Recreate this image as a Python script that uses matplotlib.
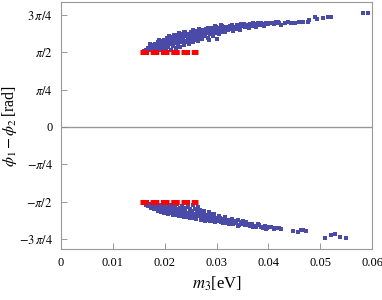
import numpy as np
import matplotlib
matplotlib.use("Agg")
import matplotlib.pyplot as plt

plt.rcParams['font.family'] = ['Liberation Serif', 'DejaVu Serif']
plt.rcParams['mathtext.fontset'] = 'stix'

# upper branch (m3 [eV], phi1 - phi2 [rad])
up_m3 = [0.0160, 0.0163, 0.0166, 0.0168, 0.0170, 0.0172, 0.0174, 0.0176, 0.0178, 0.0179,
         0.0181, 0.0183, 0.0185, 0.0186, 0.0188, 0.0190, 0.0192, 0.0193, 0.0195, 0.0197,
         0.0198, 0.0200, 0.0202, 0.0204, 0.0205, 0.0207, 0.0209, 0.0211, 0.0212, 0.0214,
         0.0216, 0.0218, 0.0219, 0.0221, 0.0223, 0.0225, 0.0226, 0.0228, 0.0230, 0.0232,
         0.0233, 0.0235, 0.0237, 0.0239, 0.0240, 0.0242, 0.0244, 0.0246, 0.0247, 0.0249,
         0.0251, 0.0253, 0.0255, 0.0256, 0.0258, 0.0260, 0.0262, 0.0264, 0.0265, 0.0267,
         0.0269, 0.0271, 0.0273, 0.0275, 0.0277, 0.0279, 0.0281, 0.0283, 0.0285, 0.0287,
         0.0289, 0.0291, 0.0293, 0.0295, 0.0297, 0.0299, 0.0302, 0.0304, 0.0306, 0.0309,
         0.0311, 0.0314, 0.0316, 0.0319, 0.0322, 0.0325, 0.0328, 0.0331, 0.0334, 0.0337,
         0.0340, 0.0343, 0.0346, 0.0349, 0.0352, 0.0355, 0.0358, 0.0362, 0.0365, 0.0368,
         0.0372, 0.0376, 0.0380, 0.0384, 0.0388, 0.0392, 0.0396, 0.0400, 0.0405, 0.0410,
         0.0415, 0.0420, 0.0425, 0.0432, 0.0438, 0.0444, 0.0452, 0.0459, 0.0467, 0.0477,
         0.0479, 0.0489, 0.0494, 0.0505, 0.0515, 0.0520, 0.0583, 0.0593,
         0.0286, 0.0300, 0.0184, 0.0196, 0.0215, 0.0236, 0.0248, 0.0261,
         0.0171, 0.0189, 0.0194, 0.0203, 0.0208, 0.0213, 0.0217, 0.0222, 0.0227, 0.0231,
         0.0234, 0.0238, 0.0243, 0.0245, 0.0250, 0.0254, 0.0257, 0.0259, 0.0263, 0.0266,
         0.0270, 0.0272, 0.0276, 0.0278, 0.0282, 0.0284, 0.0288, 0.0292, 0.0296, 0.0301,
         0.0305, 0.0308, 0.0313, 0.0318, 0.0324, 0.0330, 0.0336, 0.0342, 0.0348, 0.0356,
         0.0363, 0.0370, 0.0378, 0.0386, 0.0394, 0.0402, 0.0412, 0.0418]
up_phi = [1.60, 1.63, 1.61, 1.66, 1.62, 1.69, 1.64, 1.72, 1.60, 1.67,
          1.75, 1.63, 1.70, 1.78, 1.66, 1.73, 1.81, 1.62, 1.69, 1.77,
          1.84, 1.65, 1.72, 1.80, 1.87, 1.68, 1.75, 1.83, 1.63, 1.90,
          1.71, 1.79, 1.86, 1.66, 1.93, 1.74, 1.82, 1.89, 1.69, 1.96,
          1.78, 1.85, 1.72, 1.92, 1.99, 1.81, 1.88, 1.75, 1.95, 1.84,
          2.01, 1.91, 1.78, 1.98, 1.87, 1.94, 2.03, 1.82, 1.90, 1.99,
          2.05, 1.86, 1.95, 2.02, 1.91, 2.07, 1.98, 1.88, 2.04, 1.95,
          2.09, 2.01, 1.92, 2.06, 1.98, 2.10, 2.03, 1.96, 2.08, 2.00,
          2.12, 2.05, 1.99, 2.10, 2.04, 2.13, 2.07, 2.02, 2.11, 2.06,
          2.14, 2.09, 2.05, 2.13, 2.16, 2.10, 2.14, 2.08, 2.17, 2.12,
          2.15, 2.11, 2.18, 2.14, 2.17, 2.13, 2.19, 2.16, 2.20, 2.17,
          2.21, 2.18, 2.15, 2.19, 2.21, 2.19, 2.20, 2.22, 2.21, 2.21,
          2.25, 2.32, 2.28, 2.29, 2.32, 2.31, 2.40, 2.40,
          1.84, 1.86, 1.67, 1.71, 1.77, 1.80, 1.86, 1.90,
          1.74, 1.84, 1.75, 1.64, 1.91, 1.85, 1.93, 1.76, 1.97, 1.83,
          1.91, 2.00, 1.78, 1.93, 1.97, 2.04, 1.83, 2.00, 1.96, 2.06,
          1.92, 2.00, 1.96, 2.04, 2.01, 2.08, 1.97, 2.04, 2.12, 2.07,
          2.02, 2.14, 2.09, 2.04, 2.10, 2.15, 2.09, 2.12, 2.17, 2.12,
          2.15, 2.18, 2.16, 2.19, 2.17, 2.19, 2.20, 2.22]

# lower branch
lo_m3 = [0.0160, 0.0163, 0.0166, 0.0168, 0.0171, 0.0173, 0.0175, 0.0178, 0.0180, 0.0182,
         0.0184, 0.0186, 0.0188, 0.0190, 0.0192, 0.0194, 0.0196, 0.0198, 0.0200, 0.0202,
         0.0204, 0.0206, 0.0208, 0.0210, 0.0212, 0.0214, 0.0216, 0.0218, 0.0220, 0.0222,
         0.0224, 0.0226, 0.0228, 0.0230, 0.0232, 0.0234, 0.0236, 0.0238, 0.0240, 0.0242,
         0.0244, 0.0246, 0.0248, 0.0250, 0.0252, 0.0254, 0.0256, 0.0258, 0.0260, 0.0262,
         0.0264, 0.0266, 0.0268, 0.0270, 0.0272, 0.0274, 0.0276, 0.0278, 0.0280, 0.0282,
         0.0285, 0.0287, 0.0290, 0.0292, 0.0295, 0.0297, 0.0300, 0.0302, 0.0305, 0.0308,
         0.0311, 0.0314, 0.0317, 0.0320, 0.0323, 0.0326, 0.0329, 0.0332, 0.0335, 0.0338,
         0.0341, 0.0344, 0.0347, 0.0350, 0.0354, 0.0357, 0.0361, 0.0365, 0.0369, 0.0373,
         0.0377, 0.0381, 0.0385, 0.0389, 0.0393, 0.0398, 0.0405, 0.0410, 0.0416, 0.0420,
         0.0425, 0.0448, 0.0457, 0.0463, 0.0467, 0.0472, 0.0510, 0.0520, 0.0529, 0.0539,
         0.0550,
         0.0170, 0.0177, 0.0183, 0.0189, 0.0195, 0.0201, 0.0205, 0.0209, 0.0213, 0.0217,
         0.0221, 0.0225, 0.0229, 0.0233, 0.0237, 0.0241, 0.0245, 0.0249, 0.0253, 0.0257,
         0.0261, 0.0265, 0.0269, 0.0273, 0.0277, 0.0281, 0.0284, 0.0288, 0.0291, 0.0294,
         0.0298, 0.0303, 0.0307, 0.0312, 0.0318, 0.0324, 0.0330, 0.0336, 0.0342, 0.0348,
         0.0356, 0.0363, 0.0371, 0.0379, 0.0387, 0.0395, 0.0402, 0.0413]
lo_phi = [-1.61, -1.64, -1.60, -1.67, -1.62, -1.70, -1.65, -1.61, -1.73, -1.67,
          -1.63, -1.76, -1.70, -1.65, -1.79, -1.72, -1.67, -1.82, -1.75, -1.62,
          -1.69, -1.84, -1.77, -1.72, -1.65, -1.80, -1.86, -1.74, -1.68, -1.82,
          -1.63, -1.77, -1.88, -1.71, -1.84, -1.66, -1.79, -1.90, -1.74, -1.86,
          -1.69, -1.81, -1.92, -1.76, -1.88, -1.65, -1.83, -1.72, -1.94, -1.79,
          -1.68, -1.87, -1.75, -1.95, -1.82, -1.90, -1.78, -1.97, -1.85, -1.92,
          -1.80, -1.98, -1.88, -1.94, -1.84, -2.00, -1.91, -1.96, -1.87, -2.01,
          -1.93, -1.98, -1.90, -2.03, -1.95, -2.00, -1.93, -2.05, -1.98, -2.02,
          -1.96, -2.06, -2.01, -1.99, -2.07, -2.03, -2.05, -2.09, -2.04, -2.08,
          -2.11, -2.07, -2.10, -2.13, -2.09, -2.12, -2.10, -2.14, -2.12, -2.13,
          -2.15, -2.19, -2.21, -2.18, -2.17, -2.20, -2.34, -2.28, -2.25, -2.32,
          -2.33,
          -1.66, -1.69, -1.71, -1.74, -1.77, -1.80, -1.66, -1.82, -1.76, -1.70,
          -1.85, -1.73, -1.80, -1.87, -1.70, -1.83, -1.89, -1.72, -1.80, -1.91,
          -1.86, -1.77, -1.83, -1.93, -1.87, -1.96, -1.89, -1.83, -1.97, -1.90,
          -1.95, -1.99, -1.92, -2.02, -1.96, -2.04, -1.98, -2.03, -2.08, -2.04,
          -2.00, -2.06, -2.10, -2.05, -2.11, -2.14, -2.11, -2.12]

# red dashed segments at +-pi/2
red_m3 = [0.0152, 0.0265]
red_phi = [np.pi / 2, -np.pi / 2]

yticks = [-3 * np.pi / 4, -np.pi / 2, -np.pi / 4, 0, np.pi / 4, np.pi / 2, 3 * np.pi / 4]
ylabels = [r'$-3\,\pi/4$', r'$-\pi/2$', r'$-\pi/4$', '0', r'$\pi/4$', r'$\pi/2$', r'$3\,\pi/4$']
xticks = [0, 0.01, 0.02, 0.03, 0.04, 0.05, 0.06]
xlabels = ['0', '0.01', '0.02', '0.03', '0.04', '0.05', '0.06']

fig = plt.figure(figsize=(3.82, 3.0), dpi=100)
ax = fig.add_axes([0.160, 0.170, 0.814, 0.823])

ax.axhline(0, color='#999999', lw=1.0, zorder=1)

ax.scatter(up_m3, up_phi, s=5, marker='s', color='#4a4aa8', linewidths=0, zorder=2)
ax.scatter(lo_m3, lo_phi, s=5, marker='s', color='#4a4aa8', linewidths=0, zorder=2)

for yv in red_phi:
    ax.plot(red_m3, [yv, yv], color='red', lw=3.6, dashes=(1.7, 0.35),
            solid_capstyle='butt', dash_capstyle='butt', zorder=3)

ax.set_xlim(0, 0.06)
ax.set_ylim(-2.57, 2.63)
ax.set_xticks(xticks)
ax.set_xticklabels(xlabels)
ax.set_yticks(yticks)
ax.set_yticklabels(ylabels)
ax.tick_params(direction='in', length=4, width=0.6, color='#888888',
               labelsize=9, top=False, right=False, pad=6)
for sp in ax.spines.values():
    sp.set_color('#999999')
    sp.set_linewidth(0.8)

ax.set_xlabel(r'$m_3$[eV]', fontsize=12, labelpad=4)
ax.set_ylabel(r'$\phi_1-\phi_2\,$[rad]', fontsize=11.5, labelpad=0)
ax.yaxis.set_label_coords(-0.135, 0.5)

fig.savefig('out.png', dpi=100)
